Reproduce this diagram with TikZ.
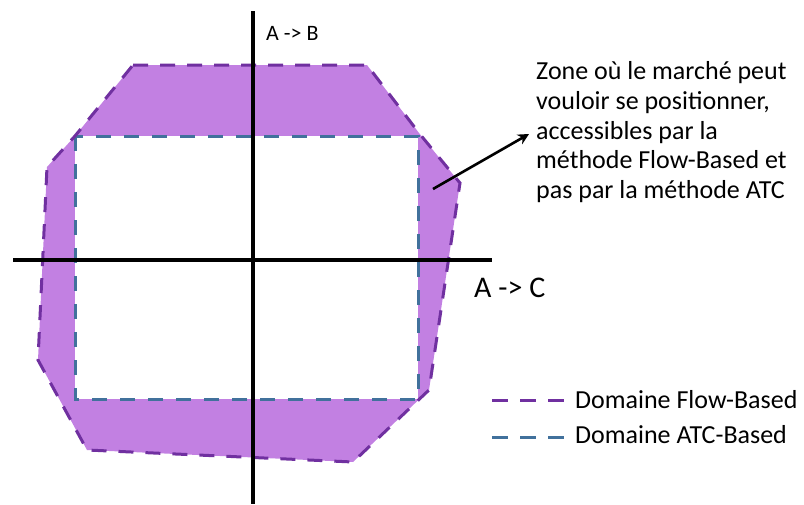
\documentclass[tikz,border=0pt]{standalone}
\usepackage{fontspec}
\setmainfont{Carlito}
\usetikzlibrary{arrows.meta}
\definecolor{fbfill}{RGB}{194,128,226}
\definecolor{fbline}{RGB}{112,48,160}
\definecolor{atcline}{RGB}{65,113,156}
\begin{document}
\begin{tikzpicture}[x=1pt,y=-1pt,
  fbdash/.style={draw=fbline, line width=3pt, dash pattern=on 15pt off 12pt},
  atcdash/.style={draw=atcline, line width=3pt, dash pattern=on 15pt off 13pt},
  axisline/.style={line width=3.2pt, black},
  lbl/.style={inner sep=0pt, anchor=base west},
  notefont/.style={font=\fontsize{26}{30}\selectfont},
  pointer/.style={line width=2.6pt, -{Stealth[length=11pt,width=11pt]}}
]
\useasboundingbox (0,0) rectangle (804,504);
% Flow-Based domain vertices
\coordinate (f1) at (133,65);
\coordinate (f2) at (367,65);
\coordinate (f3) at (419,133);
\coordinate (f4) at (460,183);
\coordinate (f5) at (429,390);
\coordinate (f6) at (353,462);
\coordinate (f7) at (87,450);
\coordinate (f8) at (38,360);
\coordinate (f9) at (47,167);
\coordinate (f10) at (75,136);
% ATC domain corners
\coordinate (a1) at (75,136);
\coordinate (a2) at (418,399);
\fill[fbfill] (f1) -- (f2) -- (f3) -- (f4) -- (f5) -- (f6) -- (f7) -- (f8) -- (f9) -- (f10) -- cycle;
\fill[white] (a1) rectangle (a2);
\draw[atcdash] (a1) rectangle (a2);
\draw[fbdash] (f1) -- (f2) -- (f3) -- (f4) -- (f5) -- (f6) -- (f7) -- (f8) -- (f9) -- (f10) -- cycle;
% axes
\coordinate (vtop) at (253,11);
\coordinate (vbot) at (253,504);
\coordinate (hleft) at (13,260);
\coordinate (hright) at (492,260);
\draw[axisline] (vtop) -- (vbot);
\draw[axisline] (hleft) -- (hright);
\node[lbl, font=\fontsize{22}{26}\selectfont] (lab) at (266,40) {A -> B};
\node[lbl, font=\fontsize{30}{34}\selectfont] (lac) at (474,297) {A -> C};
% annotation
\node[lbl, notefont] (n1) at (536,79) {Zone où le marché peut};
\node[lbl, notefont] (n2) at (536,109) {vouloir se positionner,};
\node[lbl, notefont] (n3) at (536,139) {accessibles par la};
\node[lbl, notefont] (n4) at (536,168) {méthode Flow-Based et};
\node[lbl, notefont] (n5) at (536,198) {pas par la méthode ATC};
\coordinate (pstart) at (433,189);
\coordinate (pend) at (529,134);
\draw[pointer] (pstart) -- (pend);
% legend
\coordinate (lg1a) at (492,400);
\coordinate (lg1b) at (564,400);
\coordinate (lg2a) at (492,437);
\coordinate (lg2b) at (564,437);
\draw[fbline, line width=3pt, dash pattern=on 16pt off 12pt] (lg1a) -- (lg1b);
\draw[atcline, line width=3pt, dash pattern=on 16pt off 12pt] (lg2a) -- (lg2b);
\node[lbl, notefont] (lt1) at (575,408) {Domaine Flow-Based};
\node[lbl, notefont] (lt2) at (575,443) {Domaine ATC-Based};
\end{tikzpicture}
\end{document}
